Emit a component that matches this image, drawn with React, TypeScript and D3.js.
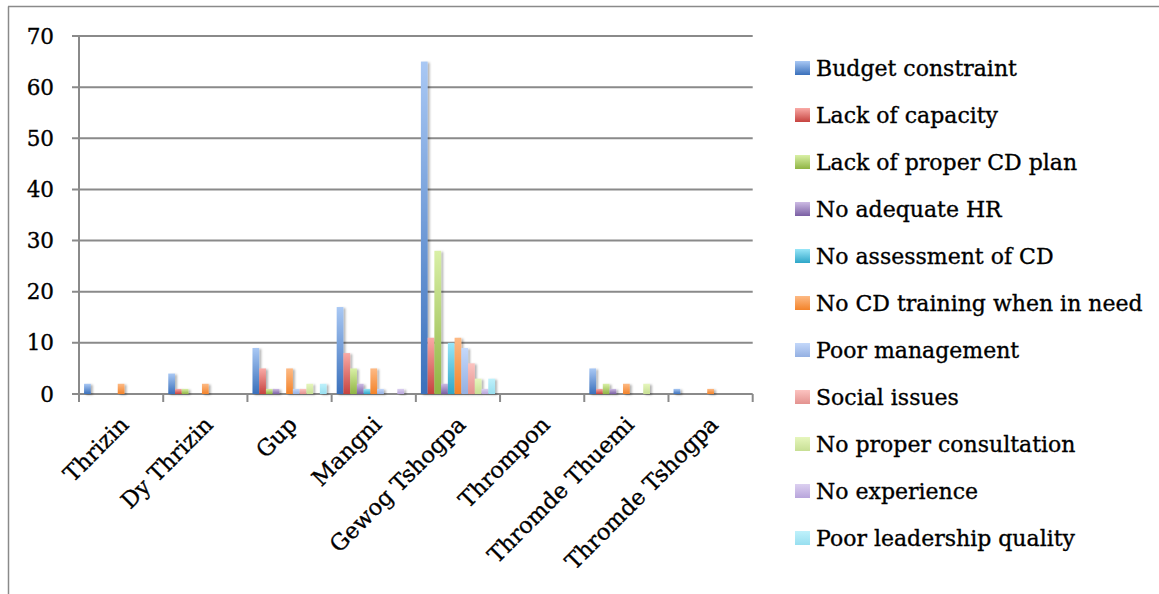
import React from 'react';
import * as d3 from 'd3';

// Respondent groups along the x axis
const categories = [
  'Thrizin',
  'Dy Thrizin',
  'Gup',
  'Mangni',
  'Gewog Tshogpa',
  'Thrompon',
  'Thromde Thuemi',
  'Thromde Tshogpa',
];

// Reasons (one series each), in legend order
const seriesNames = [
  'Budget constraint',
  'Lack of capacity',
  'Lack of proper CD plan',
  'No adequate HR',
  'No assessment of CD',
  'No CD training when in need',
  'Poor management',
  'Social issues',
  'No proper consultation',
  'No experience',
  'Poor leadership quality',
];

// Counts per group for each reason
const budgetConstraint = [2, 4, 9, 17, 65, 0, 5, 1];
const lackOfCapacity = [0, 1, 5, 8, 11, 0, 1, 0];
const lackOfProperCdPlan = [0, 1, 1, 5, 28, 0, 2, 0];
const noAdequateHr = [0, 0, 1, 2, 2, 0, 1, 0];
const noAssessmentOfCd = [0, 0, 0, 1, 10, 0, 0, 0];
const noCdTraining = [2, 2, 5, 5, 11, 0, 2, 1];
const poorManagement = [0, 0, 1, 1, 9, 0, 0, 0];
const socialIssues = [0, 0, 1, 0, 6, 0, 0, 0];
const noProperConsultation = [0, 0, 2, 0, 3, 0, 2, 0];
const noExperience = [0, 0, 0, 1, 1, 0, 0, 0];
const poorLeadership = [0, 0, 2, 0, 3, 0, 0, 0];

const seriesValues = [
  budgetConstraint,
  lackOfCapacity,
  lackOfProperCdPlan,
  noAdequateHr,
  noAssessmentOfCd,
  noCdTraining,
  poorManagement,
  socialIssues,
  noProperConsultation,
  noExperience,
  poorLeadership,
];

const yTicks = [0, 10, 20, 30, 40, 50, 60, 70];

// Gradient stops (top, bottom) for each series
const palette: [string, string][] = [
  ['#a9c8f4', '#3a70bb'],
  ['#f9aaa6', '#c6433f'],
  ['#d9f0a6', '#8fb443'],
  ['#cdbbe4', '#7a5fa3'],
  ['#98e6f8', '#2ea6c8'],
  ['#fdba85', '#f3832a'],
  ['#c4d8fa', '#94b0e2'],
  ['#fcc3c0', '#e3928f'],
  ['#e6f6bd', '#c7df94'],
  ['#dcd0f0', '#b8a5db'],
  ['#bff1fb', '#98dff0'],
];

const W = 1159;
const H = 594;
const left = 79;
const right = 752.7;
const top = 36;
const base = 394;
const FONT = '"DejaVu Serif", serif';
const GRID = '#8a8a8a';
const INK = { fill: '#000', stroke: '#000', strokeWidth: 0.35 };

export default function App() {
  const x0 = d3.scaleBand<string>().domain(categories).range([left, right]).padding(0);
  const x1 = d3
    .scaleBand<string>()
    .domain(seriesNames)
    .range([0, x0.bandwidth()])
    .paddingInner(0)
    .paddingOuter(0.75);
  const y = d3.scaleLinear().domain([0, 70]).range([base, top]);

  const boundaries = categories.map((c) => x0(c)!).concat([right]);

  return (
    <svg
      width={W}
      height={H}
      style={{ position: 'absolute', left: 0, top: 0, background: '#fff' }}
      fontFamily={FONT}
    >
      <defs>
        {palette.map(([a, b], i) => (
          <linearGradient key={i} id={`g${i}`} x1="0" y1="0" x2="0" y2="1">
            <stop offset="0" stopColor={a} />
            <stop offset="1" stopColor={b} />
          </linearGradient>
        ))}
        <filter id="shadow" x="-50%" y="-10%" width="220%" height="130%">
          <feDropShadow dx="2" dy="1" stdDeviation="1.2" floodColor="#000" floodOpacity="0.3" />
        </filter>
      </defs>

      {/* outer chart frame */}
      <line x1={8.5} y1={6.5} x2={8.5} y2={H} stroke={GRID} strokeWidth={1.5} />
      <line x1={8} y1={6.5} x2={W} y2={6.5} stroke={GRID} strokeWidth={1.5} />

      {/* horizontal gridlines with left tick marks */}
      {yTicks.map((t) => (
        <g key={t}>
          <line x1={72} x2={right} y1={y(t)} y2={y(t)} stroke={GRID} strokeWidth={2} />
          <text x={54} y={y(t)} textAnchor="end" dominantBaseline="central" fontSize={21.5} {...INK}>
            {t}
          </text>
        </g>
      ))}

      {/* vertical axis */}
      <line x1={left} x2={left} y1={top} y2={base + 8} stroke={GRID} strokeWidth={2} />

      {/* category tick marks */}
      {boundaries.map((bx, i) => (
        <line key={i} x1={bx} x2={bx} y1={base} y2={base + 8} stroke={GRID} strokeWidth={2} />
      ))}

      {/* bars */}
      {seriesValues.map((vals, si) => (
        <g key={si} filter="url(#shadow)">
          {vals.map((v, ci) =>
            v > 0 ? (
              <rect
                key={ci}
                x={x0(categories[ci])! + x1(seriesNames[si])!}
                y={y(v)}
                width={x1.bandwidth()}
                height={base - y(v)}
                fill={`url(#g${si})`}
              />
            ) : null
          )}
        </g>
      ))}

      {/* category labels */}
      {categories.map((c) => {
        const cx = x0(c)! + x0.bandwidth() / 2 + 9;
        const cy = 426;
        return (
          <text
            key={c}
            x={cx}
            y={cy}
            textAnchor="end"
            fontSize={22.5}
            {...INK}
            transform={`rotate(-45, ${cx}, ${cy})`}
          >
            {c}
          </text>
        );
      })}

      {/* legend */}
      {seriesNames.map((s, i) => {
        const cy = 68 + 47 * i;
        return (
          <g key={s}>
            <rect x={795} y={cy - 7} width={15} height={14} fill={`url(#g${i})`} />
            <text x={816} y={cy + 8} fontSize={22} {...INK}>
              {s}
            </text>
          </g>
        );
      })}
    </svg>
  );
}
